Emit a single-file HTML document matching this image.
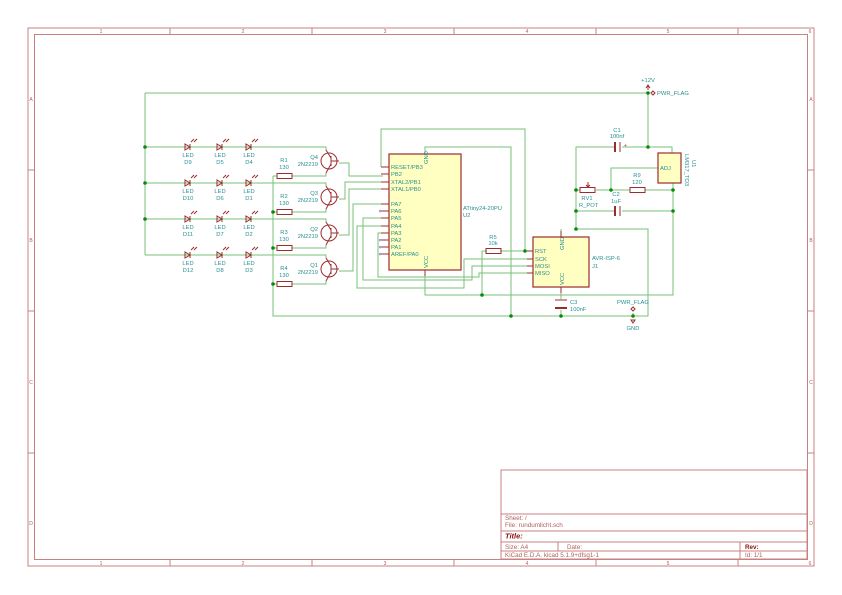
<!DOCTYPE html>
<html><head><meta charset="utf-8"><style>
html,body{margin:0;padding:0;background:#fff}
svg{display:block}
text{font-family:"Liberation Sans",sans-serif}
.f{stroke:#c88080;fill:none;stroke-width:1}
.ft{fill:#b06060;font-size:5px}
.w{stroke:#78c078;fill:none;stroke-width:1}
.c{stroke:#9c2c2c;fill:none;stroke-width:1}
.t{fill:#2a9090;font-size:5.8px}
.p{fill:#9c2c2c;font-size:5px}
.j{fill:#0a8a0a}
</style></head><body>
<svg width="842" height="595" viewBox="0 0 842 595" xmlns="http://www.w3.org/2000/svg">
<rect x="28" y="28" width="786" height="538" class="f"/>
<rect x="34.5" y="34.5" width="773" height="525" class="f"/>
<g class="f">
<path d="M170 28V34M312 28V34M454 28V34M596 28V34M738 28V34M170 560V566M312 560V566M454 560V566M596 560V566M738 560V566"/>
<path d="M28 170H34M28 311H34M28 453H34M808 170H814M808 311H814M808 453H814"/>
</g>
<g class="ft" text-anchor="middle">
<text x="101" y="33">1</text><text x="243" y="33">2</text><text x="385" y="33">3</text><text x="527" y="33">4</text><text x="668" y="33">5</text><text x="810" y="33">6</text>
<text x="101" y="565">1</text><text x="243" y="565">2</text><text x="385" y="565">3</text><text x="527" y="565">4</text><text x="668" y="565">5</text><text x="810" y="565">6</text>
<text x="31" y="101">A</text><text x="31" y="242">B</text><text x="31" y="384">C</text><text x="31" y="525">D</text>
<text x="811" y="101">A</text><text x="811" y="242">B</text><text x="811" y="384">C</text><text x="811" y="525">D</text>
</g>
<g class="f">
<rect x="501" y="470" width="306" height="89"/>
<path d="M501 514H807M501 531H807M501 542H807M501 551H807M558 542V551M740 542V559"/>
</g>
<g class="ft" style="font-size:6.3px">
<text x="505" y="520">Sheet: /</text>
<text x="505" y="527">File: rundumlicht.sch</text>
<text x="505" y="538.5" style="font-weight:bold;font-style:italic;font-size:7.5px;fill:#8a1010">Title:</text>
<text x="505" y="549">Size: A4</text>
<text x="567" y="549">Date:</text>
<text x="745" y="549" style="font-weight:bold;fill:#8a1010">Rev:</text>
<text x="505" y="557">KiCad E.D.A.  kicad 5.1.9+dfsg1-1</text>
<text x="745" y="557">Id: 1/1</text>
</g>

<g class="w">
<path d="M145 93H648V147M145 93V255"/>
<path d="M145 147H326V150M145 183H326V186M145 219H326V222M145 255H326V258"/>
<path d="M273 176V316H648V229H576V147H614M622 147H672V153"/>
<path d="M273 176H277M292 176H326V173M273 212H277M292 212H326V209M273 248H277M292 248H326V245M273 284H277M292 284H326V281"/>
<path d="M339 163H349V176H383M339 199H345V182H383M339 235H349V189H383M339 271H353V204H383"/>
<path d="M381 167V129H525V251M425 154V147H511V316"/>
<path d="M482 251H487M500 251H530M482 251V295"/>
<path d="M425 270V295H673V183"/>
<path d="M530 259H464V288H357V226H383M530 266H472V280H363V218H383M530 273H479V277H378V233H383"/>
<path d="M561 237V229M561 287V299M561 310V316M633 316V313"/>
<path d="M576 190H580M596 190H630M645 190H673M611 190V168H658M576 211H614M622 211H673M576 190V211V229"/>
</g>
<g class="j">
<circle cx="648" cy="93" r="1.8"/><circle cx="145" cy="147" r="1.8"/><circle cx="145" cy="183" r="1.8"/><circle cx="145" cy="219" r="1.8"/>
<circle cx="273" cy="212" r="1.8"/><circle cx="273" cy="248" r="1.8"/><circle cx="273" cy="284" r="1.8"/>
<circle cx="511" cy="316" r="1.8"/><circle cx="561" cy="316" r="1.8"/><circle cx="633" cy="316" r="1.8"/>
<circle cx="648" cy="147" r="1.8"/><circle cx="576" cy="190" r="1.8"/><circle cx="611" cy="190" r="1.8"/><circle cx="673" cy="190" r="1.8"/>
<circle cx="576" cy="211" r="1.8"/><circle cx="673" cy="211" r="1.8"/><circle cx="576" cy="229" r="1.8"/>
<circle cx="525" cy="251" r="1.8"/><circle cx="482" cy="295" r="1.8"/>
</g>

<defs>
<g id="L"><path class="c" d="M-3 -3v6l5-3z M2 -3v6 M3 -5l3-3 M6 -5l3-3"/></g>
<g id="R"><rect class="c" x="0" y="-2.5" width="15" height="5"/></g>
</defs>
<g>
<use href="#L" x="188" y="147"/><use href="#L" x="220" y="147"/><use href="#L" x="249" y="147"/>
<use href="#L" x="188" y="183"/><use href="#L" x="220" y="183"/><use href="#L" x="249" y="183"/>
<use href="#L" x="188" y="219"/><use href="#L" x="220" y="219"/><use href="#L" x="249" y="219"/>
<use href="#L" x="188" y="255"/><use href="#L" x="220" y="255"/><use href="#L" x="249" y="255"/>
</g>
<g class="t" text-anchor="middle">
<text x="188" y="157">LED</text><text x="188" y="164">D9</text><text x="220" y="157">LED</text><text x="220" y="164">D5</text><text x="249" y="157">LED</text><text x="249" y="164">D4</text>
<text x="188" y="193">LED</text><text x="188" y="200">D10</text><text x="220" y="193">LED</text><text x="220" y="200">D6</text><text x="249" y="193">LED</text><text x="249" y="200">D1</text>
<text x="188" y="229">LED</text><text x="188" y="236">D11</text><text x="220" y="229">LED</text><text x="220" y="236">D7</text><text x="249" y="229">LED</text><text x="249" y="236">D2</text>
<text x="188" y="265">LED</text><text x="188" y="272">D12</text><text x="220" y="265">LED</text><text x="220" y="272">D8</text><text x="249" y="265">LED</text><text x="249" y="272">D3</text>
<text x="284" y="162">R1</text><text x="284" y="169">130</text>
<text x="284" y="198">R2</text><text x="284" y="205">130</text>
<text x="284" y="234">R3</text><text x="284" y="241">130</text>
<text x="284" y="270">R4</text><text x="284" y="277">130</text>
</g>
<use href="#R" x="277" y="176"/><use href="#R" x="277" y="212"/><use href="#R" x="277" y="248"/><use href="#R" x="277" y="284"/>
<g class="c">
<circle cx="329" cy="161" r="8"/><circle cx="329" cy="197" r="8"/><circle cx="329" cy="233" r="8"/><circle cx="329" cy="269" r="8"/>
<path d="M331 156v10M331 158l-5-8M331 164l-5 9M331 161h8"/>
<path d="M331 192v10M331 194l-5-8M331 200l-5 9M331 197h8"/>
<path d="M331 228v10M331 230l-5-8M331 236l-5 9M331 233h8"/>
<path d="M331 264v10M331 266l-5-8M331 272l-5 9M331 269h8"/>
</g>
<g class="t" text-anchor="end">
<text x="318" y="159">Q4</text><text x="318" y="166">2N2219</text>
<text x="318" y="195">Q3</text><text x="318" y="202">2N2219</text>
<text x="318" y="231">Q2</text><text x="318" y="238">2N2219</text>
<text x="318" y="267">Q1</text><text x="318" y="274">2N2219</text>
</g>

<rect x="389" y="154" width="72" height="116" fill="#ffffc2" stroke="#9c2c2c" stroke-width="1.2"/>
<g class="c"><path d="M381 167h8M381 174h8M381 182h8M381 189h8M381 204h8M381 211h8M381 218h8M381 226h8M381 233h8M381 240h8M381 247h8M381 254h8M425 270v6"/></g>
<g class="t">
<text x="391" y="169">RESET/PB3</text><text x="391" y="176">PB2</text><text x="391" y="184">XTAL2/PB1</text><text x="391" y="191">XTAL1/PB0</text>
<text x="391" y="206">PA7</text><text x="391" y="213">PA6</text><text x="391" y="220">PA5</text><text x="391" y="228">PA4</text><text x="391" y="235">PA3</text><text x="391" y="242">PA2</text><text x="391" y="249">PA1</text><text x="391" y="256">AREF/PA0</text>
<text x="463" y="210">ATtiny24-20PU</text><text x="463" y="217">U2</text>
<text transform="translate(428,164) rotate(-90)">GND</text>
<text transform="translate(428,268) rotate(-90)">VCC</text>
</g>
<g fill="#3030a0" font-size="5px"><text x="380" y="213" text-anchor="middle">×</text><text x="380" y="242" text-anchor="middle">×</text><text x="380" y="249" text-anchor="middle">×</text><text x="380" y="256" text-anchor="middle">×</text></g>

<use href="#R" x="486" y="251"/>
<text class="t" x="493" y="239" text-anchor="middle">R5</text><text class="t" x="493" y="245" text-anchor="middle">10k</text>

<rect x="533" y="237" width="56" height="50" fill="#ffffc2" stroke="#9c2c2c" stroke-width="1.2"/>
<g class="c"><path d="M527 251h6M527 259h6M527 266h6M527 273h6M561 231v6M561 287v6"/></g>
<g class="t">
<text x="535" y="253">RST</text><text x="535" y="261">SCK</text><text x="535" y="268">MOSI</text><text x="535" y="275">MISO</text>
<text x="592" y="260">AVR-ISP-6</text><text x="592" y="268">J1</text>
<text transform="translate(564,250) rotate(-90)">GND</text>
<text transform="translate(564,285) rotate(-90)">VCC</text>
</g>
<g class="c"><path d="M555 300h12"/></g><rect x="555" y="307" width="12" height="2" fill="#9c2c2c"/>
<text class="t" x="570" y="304">C3</text><text class="t" x="570" y="311">100nF</text>

<rect x="614" y="142" width="2" height="10" fill="#9c2c2c"/><path class="c" d="M620 142v10"/>
<text class="t" x="617" y="132" text-anchor="middle">C1</text><text class="t" x="617" y="138" text-anchor="middle">100nf</text>
<text class="p" x="624" y="147">+</text>
<rect x="614" y="206" width="2" height="10" fill="#9c2c2c"/><path class="c" d="M620 206v10"/>
<text class="t" x="616" y="196" text-anchor="middle">C2</text><text class="t" x="616" y="203" text-anchor="middle">1uF</text>
<use href="#R" x="630" y="190"/>
<text class="t" x="637" y="177" text-anchor="middle">R9</text><text class="t" x="637" y="184" text-anchor="middle">120</text>
<use href="#R" x="580" y="190"/><path class="c" d="M588 182v5M586 185l2 2l2-2"/>
<text class="t" x="587" y="200" text-anchor="middle">RV1</text><text class="t" x="579" y="207">R_POT</text>
<rect x="658" y="153" width="23" height="30" fill="#ffffc2" stroke="#9c2c2c" stroke-width="1.2"/>
<g class="t"><text x="660" y="170">ADJ</text>
<text transform="translate(685,154) rotate(90)">LM317_TO3</text>
<text transform="translate(692,160) rotate(90)">U1</text></g>

<text class="t" x="648" y="82" text-anchor="middle">+12V</text>
<path class="c" d="M648 86v4M646 88l2-3l2 3"/>
<path class="c" d="M651 93l2-2l2 2l-2 2z"/>
<text class="t" x="657" y="95">PWR_FLAG</text>
<text class="t" x="633" y="304" text-anchor="middle">PWR_FLAG</text>
<path class="c" d="M633 311l-2-2l2-2l2 2z M631 320h4l-2 3z"/>
<text class="t" x="633" y="330" text-anchor="middle">GND</text>
</svg>
</body></html>
